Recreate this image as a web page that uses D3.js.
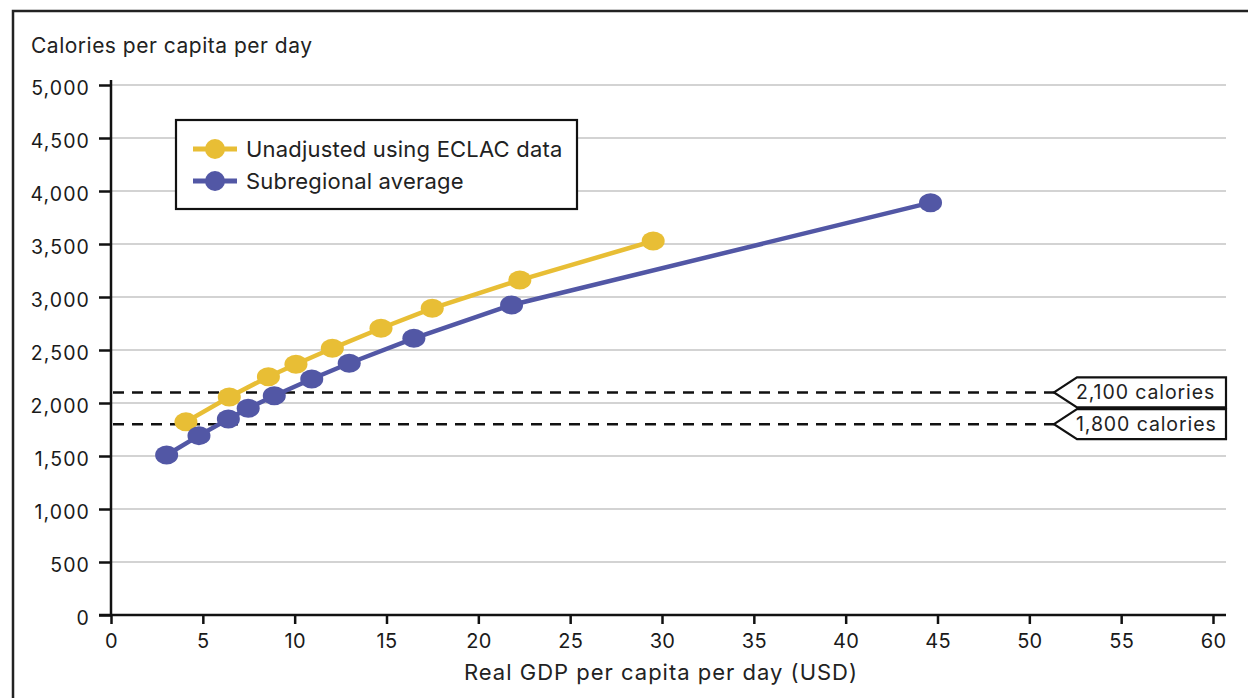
<!DOCTYPE html>
<html>
<head>
<meta charset="utf-8">
<script src="https://cdn.jsdelivr.net/npm/d3@7"></script>
<style>
  body { margin: 0; background: #fff; }
  svg { display: block; font-family: Inter, "Noto Sans", sans-serif; }
</style>
</head>
<body>
<script>
var width = 1248, height = 698;

// data
var unadjX = [4.08, 6.44, 8.57, 10.07, 12.05, 14.70, 17.49, 22.26, 29.52];
var unadjY = [1822, 2057, 2248, 2365, 2516, 2705, 2893, 3160, 3528];
var subregX = [3.03, 4.79, 6.39, 7.47, 8.89, 10.93, 12.97, 16.49, 21.81, 44.62];
var subregY = [1509, 1692, 1849, 1950, 2069, 2226, 2375, 2610, 2925, 3890];
var seriesNames = ["Unadjusted using ECLAC data", "Subregional average"];
var seriesColors = ["#e8be35", "#5257a5"];
var thresholds = [2100, 1800];
var thresholdLabels = ["2,100 calories", "1,800 calories"];
var xTicks = d3.range(0, 61, 5);
var yTicks = d3.range(0, 5001, 500);

var x = d3.scaleLinear().domain([0, 60]).range([111, 1213]);
var y = d3.scaleLinear().domain([0, 5000]).range([615, 85]);

var svg = d3.select("body").append("svg")
  .attr("width", width).attr("height", height);

// outer frame (right and bottom edges fall outside the picture)
svg.append("rect")
  .attr("x", 13).attr("y", 11)
  .attr("width", 1300).attr("height", 800)
  .attr("fill", "none").attr("stroke", "#222").attr("stroke-width", 2.5);

// gridlines
svg.append("g").selectAll("line")
  .data(yTicks.filter(function(d) { return d > 0; }))
  .enter().append("line")
    .attr("x1", 111).attr("x2", 1226)
    .attr("y1", function(d) { return y(d); })
    .attr("y2", function(d) { return y(d); })
    .attr("stroke", "#c4c4c4").attr("stroke-width", 1.5);

// y axis
var yAxis = svg.append("g")
  .attr("transform", "translate(111,0)")
  .call(d3.axisLeft(y).tickValues(yTicks).tickSize(12).tickPadding(9)
    .tickFormat(d3.format(",")));
yAxis.select(".domain").attr("d", "M0,80V615").attr("stroke", "#111").attr("stroke-width", 2.5);
yAxis.selectAll(".tick line").attr("stroke", "#111").attr("stroke-width", 2.5);
yAxis.selectAll(".tick text").attr("font-size", 19.5).attr("fill", "#1a1a1a")
  .attr("font-family", "Inter, sans-serif").attr("letter-spacing", 1.1)
  .attr("dy", "0.5em");

// x axis
var xAxis = svg.append("g")
  .attr("transform", "translate(0,615)")
  .call(d3.axisBottom(x).tickValues(xTicks).tickSize(9));
xAxis.select(".domain").attr("d", "M99,0H1226").attr("stroke", "#111").attr("stroke-width", 2.5);
xAxis.selectAll(".tick line").attr("stroke", "#111").attr("stroke-width", 2.5);
xAxis.selectAll(".tick text").attr("font-size", 20).attr("fill", "#1a1a1a")
  .attr("font-family", "Inter, sans-serif").attr("letter-spacing", 0.3)
  .attr("y", 33).attr("dy", 0);

// axis titles
svg.append("text")
  .attr("x", 31).attr("y", 53)
  .attr("font-size", 21).attr("letter-spacing", 0.5).attr("fill", "#222")
  .text("Calories per capita per day");

svg.append("text")
  .attr("x", 661).attr("y", 680)
  .attr("text-anchor", "middle")
  .attr("font-size", 22).attr("letter-spacing", 1).attr("fill", "#222")
  .text("Real GDP per capita per day (USD)");

// threshold dashed lines
svg.append("g").selectAll("line")
  .data(thresholds)
  .enter().append("line")
    .attr("x1", 113).attr("x2", 1054)
    .attr("y1", function(d) { return y(d); })
    .attr("y2", function(d) { return y(d); })
    .attr("stroke", "#111").attr("stroke-width", 2.5)
    .attr("stroke-dasharray", "11,8");

// threshold callouts
var callout = svg.append("g").selectAll("g")
  .data(thresholds)
  .enter().append("g")
    .attr("transform", function(d) { return "translate(0," + y(d) + ")"; });

callout.append("path")
  .attr("d", "M1054,0L1077,-15H1226V15H1077Z")
  .attr("fill", "#fff").attr("stroke", "#111").attr("stroke-width", 2.2)
  .attr("stroke-linejoin", "miter");

callout.append("text")
  .attr("x", 1076).attr("y", 7)
  .attr("font-size", 19.5).attr("letter-spacing", 0.9).attr("fill", "#222")
  .text(function(d, i) { return thresholdLabels[i]; });

// series
var series = [
  d3.zip(unadjX, unadjY),
  d3.zip(subregX, subregY)
];

var line = d3.line()
  .x(function(d) { return x(d[0]); })
  .y(function(d) { return y(d[1]); });

series.forEach(function(pts, i) {
  svg.append("path")
    .datum(pts)
    .attr("d", line)
    .attr("fill", "none")
    .attr("stroke", seriesColors[i])
    .attr("stroke-width", 4.5);

  svg.append("g").selectAll("ellipse")
    .data(pts)
    .enter().append("ellipse")
      .attr("cx", function(d) { return x(d[0]); })
      .attr("cy", function(d) { return y(d[1]); })
      .attr("rx", 11.5).attr("ry", 9.5)
      .attr("fill", seriesColors[i]);
});

// legend
var legend = svg.append("g");
legend.append("rect")
  .attr("x", 176).attr("y", 120)
  .attr("width", 401).attr("height", 89)
  .attr("fill", "#fff").attr("stroke", "#111").attr("stroke-width", 2.2);

var item = legend.selectAll("g")
  .data(seriesNames)
  .enter().append("g")
    .attr("transform", function(d, i) { return "translate(0," + (149 + i * 32) + ")"; });

item.append("line")
  .attr("x1", 193).attr("x2", 237)
  .attr("stroke", function(d, i) { return seriesColors[i]; })
  .attr("stroke-width", 5);

item.append("circle")
  .attr("cx", 215).attr("r", 10)
  .attr("fill", function(d, i) { return seriesColors[i]; });

item.append("text")
  .attr("x", 246).attr("y", 7.5)
  .attr("font-size", 22).attr("letter-spacing", 0.2).attr("fill", "#222")
  .text(function(d) { return d; });
</script>
</body>
</html>
